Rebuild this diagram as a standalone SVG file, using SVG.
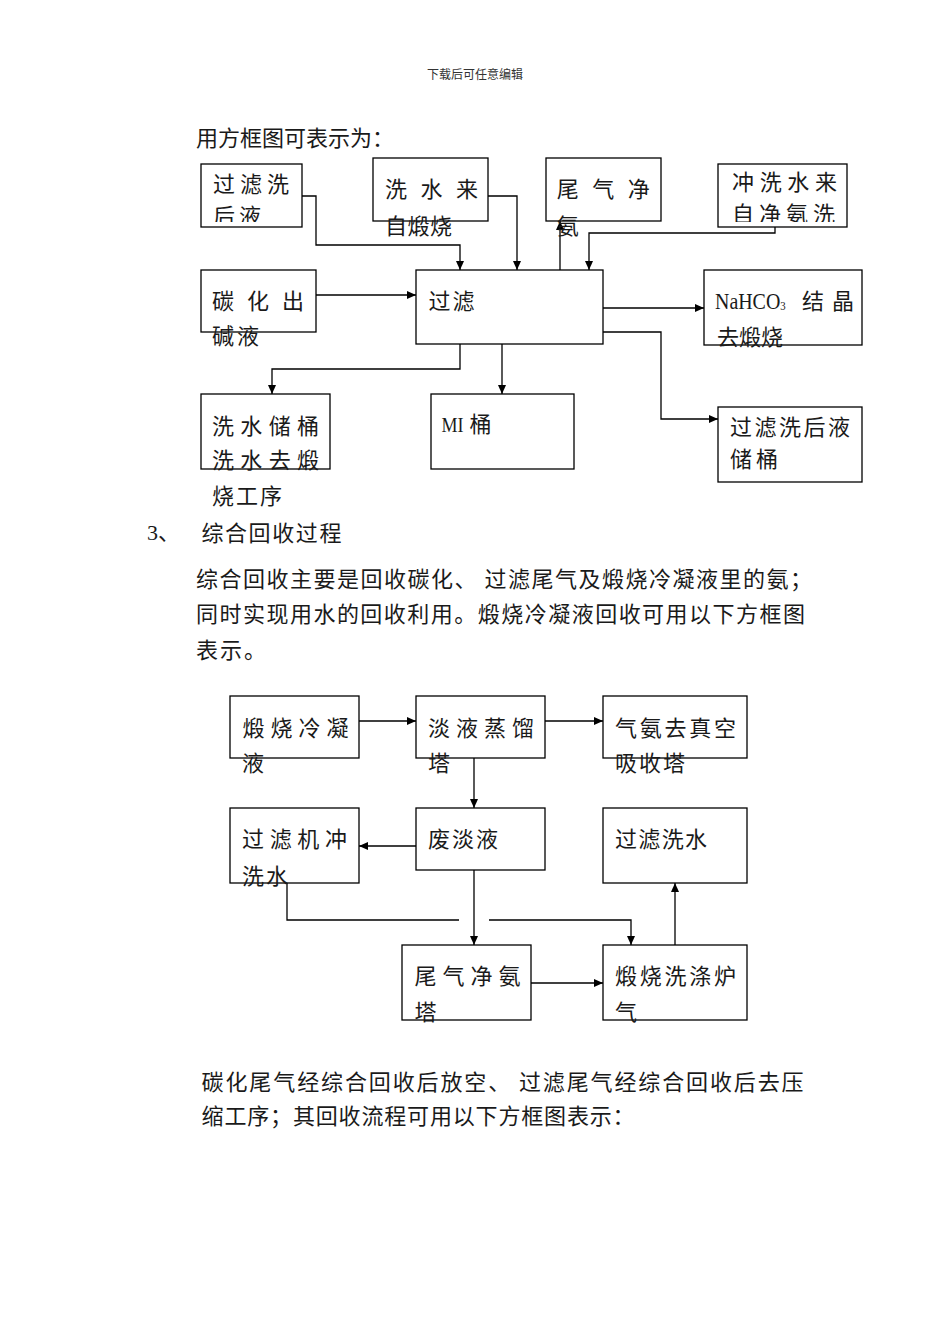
<svg xmlns="http://www.w3.org/2000/svg" width="950" height="1344" viewBox="0 0 950 1344">
<style>
.bx{fill:none;stroke:#000;stroke-width:1.3}
.c{fill:none;stroke:#000;stroke-width:1.3;marker-end:url(#ah)}
.l{fill:none;stroke:#000;stroke-width:1.3}
.t{font-family:"Noto Sans CJK SC","Noto Sans",sans-serif;font-size:22px;fill:#1a1a1a}
.s{font-family:"Liberation Serif",serif;fill:#1a1a1a}
.h{font-family:"Noto Sans CJK SC",sans-serif;font-size:12px;fill:#333}
</style>
<defs>
<marker id="ah" markerUnits="userSpaceOnUse" markerWidth="10" markerHeight="8" refX="9" refY="4" orient="auto">
<path d="M0,0 L9,4 L0,8 z" fill="#000"/>
</marker>
<clipPath id="cp1"><rect x="195" y="160" width="120" height="62"/></clipPath>
<clipPath id="cp4"><rect x="715" y="160" width="140" height="62"/></clipPath>
</defs>
<rect width="950" height="1344" fill="#fff"/>

<text class="h" x="475" y="79" text-anchor="middle">下载后可任意编辑</text>
<text class="t" x="196" y="145.5">用方框图可表示为：</text>

<g id="connectors1">
<path class="c" d="M302,196 H316 V245 H460 V270"/>
<path class="c" d="M488,196 H517 V270"/>
<path class="c" d="M560,270 V221"/>
<path class="c" d="M775,227 V233 H589 V270"/>
<path class="c" d="M316,295 H416"/>
<path class="c" d="M603,308 H704"/>
<path class="c" d="M603,332 H661 V419 H718"/>
<path class="c" d="M460,344 V369 H272 V394"/>
<path class="c" d="M502,344 V394"/>
</g>

<g id="n1">
<rect class="bx" x="201" y="164" width="101" height="63"/>
<g clip-path="url(#cp1)">
<text class="t" x="213" y="192" textLength="76" lengthAdjust="spacing">过滤洗</text>
<text class="t" x="213" y="223.5" textLength="48" lengthAdjust="spacing">后液</text>
</g>
</g>
<g id="n2">
<rect class="bx" x="373" y="158" width="115" height="63"/>
<text class="t" x="385" y="197" textLength="93" lengthAdjust="spacing">洗水来</text>
<text class="t" x="385" y="233.5" textLength="67" lengthAdjust="spacing">自煅烧</text>
</g>
<g id="n3">
<rect class="bx" x="546" y="158" width="115" height="63"/>
<text class="t" x="556.7" y="197" textLength="93" lengthAdjust="spacing">尾气净</text>
<text class="t" x="556.7" y="233.5">氨</text>
</g>
<g id="n4">
<rect class="bx" x="718" y="164" width="129" height="63"/>
<text class="t" x="732" y="189.5" textLength="105" lengthAdjust="spacing">冲洗水来</text>
<g clip-path="url(#cp4)">
<text class="t" x="732" y="221.5" textLength="103" lengthAdjust="spacing">自净氨洗</text>
</g>
</g>
<g id="n5">
<rect class="bx" x="201" y="270" width="115" height="62"/>
<text class="t" x="212" y="309" textLength="92" lengthAdjust="spacing">碳化出</text>
<text class="t" x="212" y="344" textLength="47" lengthAdjust="spacing">碱液</text>
</g>
<g id="n6">
<rect class="bx" x="416" y="270" width="187" height="74"/>
<text class="t" x="428.5" y="309" textLength="46" lengthAdjust="spacing">过滤</text>
</g>
<g id="n7">
<rect class="bx" x="704" y="270" width="158" height="75"/>
<text class="s" transform="translate(715,309) scale(0.83,1)" font-size="24">NaHCO<tspan font-size="13" dy="1">3</tspan></text>
<text class="t" x="802" y="309">结</text>
<text class="t" x="832" y="309">晶</text>
<text class="t" x="717" y="345" textLength="66" lengthAdjust="spacing">去煅烧</text>
</g>
<g id="n8">
<rect class="bx" x="201" y="394" width="129" height="75"/>
<text class="t" x="212" y="433.5" textLength="107" lengthAdjust="spacing">洗水储桶</text>
<text class="t" x="212" y="468" textLength="107" lengthAdjust="spacing">洗水去煅</text>
<text class="t" x="212" y="503.5" textLength="70" lengthAdjust="spacing">烧工序</text>
</g>
<g id="n9">
<rect class="bx" x="431" y="394" width="143" height="75"/>
<text class="s" x="441.5" y="432" font-size="22" textLength="22" lengthAdjust="spacingAndGlyphs">MI</text>
<text class="t" x="469.5" y="432">桶</text>
</g>
<g id="n10">
<rect class="bx" x="718" y="407" width="144" height="75"/>
<text class="t" x="730" y="435" textLength="120" lengthAdjust="spacing">过滤洗后液</text>
<text class="t" x="730" y="466.5" textLength="48" lengthAdjust="spacing">储桶</text>
</g>

<text class="t" x="147" y="540"><tspan class="s">3</tspan>、</text>
<text class="t" x="201.4" y="541" textLength="140" lengthAdjust="spacing">综合回收过程</text>
<text class="t" x="196" y="587" textLength="616" lengthAdjust="spacing">综合回收主要是回收碳化、 过滤尾气及煅烧冷凝液里的氨；</text>
<text class="t" x="196" y="622" textLength="609" lengthAdjust="spacing">同时实现用水的回收利用。煅烧冷凝液回收可用以下方框图</text>
<text class="t" x="196" y="658" textLength="70" lengthAdjust="spacing">表示。</text>

<g id="connectors2">
<path class="c" d="M359,721 H416"/>
<path class="c" d="M545,721 H603"/>
<path class="c" d="M474,758 V808"/>
<path class="c" d="M416,846 H359"/>
<path class="c" d="M474,870 V945"/>
<path class="l" d="M287,883 V920 H459"/>
<path class="c" d="M489,920 H631 V945"/>
<path class="c" d="M531,983 H603"/>
<path class="c" d="M675,945 V883"/>
</g>

<g id="m1">
<rect class="bx" x="230" y="696" width="129" height="62"/>
<text class="t" x="242.4" y="735.5" textLength="106" lengthAdjust="spacing">煅烧冷凝</text>
<text class="t" x="242" y="770.5">液</text>
</g>
<g id="m2">
<rect class="bx" x="416" y="696" width="129" height="62"/>
<text class="t" x="428" y="735.5" textLength="106" lengthAdjust="spacing">淡液蒸馏</text>
<text class="t" x="428" y="770.5">塔</text>
</g>
<g id="m3">
<rect class="bx" x="603" y="696" width="144" height="62"/>
<text class="t" x="615" y="735.5" textLength="121" lengthAdjust="spacing">气氨去真空</text>
<text class="t" x="615" y="770.5" textLength="70" lengthAdjust="spacing">吸收塔</text>
</g>
<g id="m4">
<rect class="bx" x="230" y="808" width="129" height="75"/>
<text class="t" x="242" y="847" textLength="105" lengthAdjust="spacing">过滤机冲</text>
<text class="t" x="242" y="883.5" textLength="46" lengthAdjust="spacing">洗水</text>
</g>
<g id="m5">
<rect class="bx" x="416" y="808" width="129" height="62"/>
<text class="t" x="428" y="847" textLength="70" lengthAdjust="spacing">废淡液</text>
</g>
<g id="m6">
<rect class="bx" x="603" y="808" width="144" height="75"/>
<text class="t" x="615" y="847" textLength="92" lengthAdjust="spacing">过滤洗水</text>
</g>
<g id="m7">
<rect class="bx" x="402" y="945" width="129" height="75"/>
<text class="t" x="414.6" y="983.5" textLength="106" lengthAdjust="spacing">尾气净氨</text>
<text class="t" x="414.6" y="1020">塔</text>
</g>
<g id="m8">
<rect class="bx" x="603" y="945" width="144" height="75"/>
<text class="t" x="615" y="983.5" textLength="121" lengthAdjust="spacing">煅烧洗涤炉</text>
<text class="t" x="615" y="1020">气</text>
</g>

<text class="t" x="201.6" y="1090" textLength="602" lengthAdjust="spacing">碳化尾气经综合回收后放空、 过滤尾气经综合回收后去压</text>
<text class="t" x="201.6" y="1124" textLength="433" lengthAdjust="spacing">缩工序；其回收流程可用以下方框图表示：</text>
</svg>
